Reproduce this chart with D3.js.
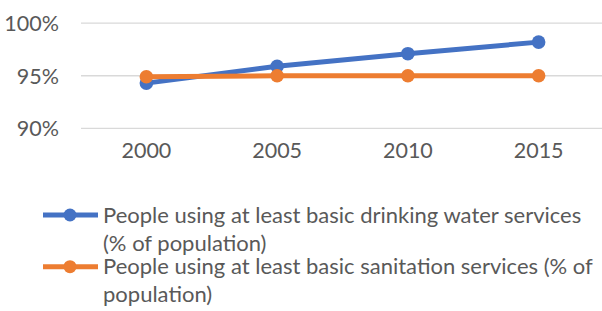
<!DOCTYPE html>
<html>
<head>
<meta charset="utf-8">
<script src="https://cdn.jsdelivr.net/npm/d3@7"></script>
<style>
  html, body { margin: 0; padding: 0; background: #fff; }
  text { font-family: Lato, "Open Sans", sans-serif; fill: #595959; }
</style>
</head>
<body>
<script>
const years = ["2000", "2005", "2010", "2015"];
const water = [94.3, 95.9, 97.1, 98.2];
const sanitation = [94.9, 95.0, 95.0, 95.0];
const yTicks = [90, 95, 100];
const seriesNames = [
  ["People using at least basic drinking water services", "(% of population)"],
  ["People using at least basic sanitation services (% of", "population)"]
];
const colors = ["#4472C4", "#ED7D31"];

const width = 602, height = 311;

const svg = d3.select("body").append("svg")
  .attr("width", width)
  .attr("height", height);

const x = d3.scaleBand().domain(years).range([81, 604]);
const y = d3.scaleLinear().domain([90, 100]).range([128.3, 23.2]);

// gridlines
svg.append("g")
  .selectAll("line")
  .data(yTicks)
  .enter()
  .append("line")
  .attr("x1", 81)
  .attr("x2", width)
  .attr("y1", d => y(d))
  .attr("y2", d => y(d))
  .attr("stroke", "#d9d9d9")
  .attr("stroke-width", 1.3);

// y labels
const yAxis = d3.axisLeft(y).tickValues(yTicks).tickFormat(d => d + "%").tickSize(0).tickPadding(0);
const gy = svg.append("g").attr("transform", "translate(59,0)").call(yAxis);
gy.select(".domain").remove();
gy.selectAll("text").attr("font-size", 21.5).attr("dy", "0.35em").attr("font-family", null);

// x labels
const xAxis = d3.axisBottom(x).tickSize(0).tickPadding(0);
const gx = svg.append("g").attr("transform", "translate(0,143)").call(xAxis);
gx.select(".domain").remove();
gx.selectAll("text").attr("font-size", 21.5).attr("dy", "0.71em").attr("font-family", null);

const cx = d => x(d) + x.bandwidth() / 2;
const line = d3.line().x(d => cx(d.year)).y(d => y(d.v));

[water, sanitation].forEach((vals, i) => {
  const pts = years.map((yr, j) => ({ year: yr, v: vals[j] }));
  svg.append("path")
    .datum(pts)
    .attr("d", line)
    .attr("fill", "none")
    .attr("stroke", colors[i])
    .attr("stroke-width", 5)
    .attr("stroke-linejoin", "round");
  svg.append("g")
    .selectAll("circle")
    .data(pts)
    .enter()
    .append("circle")
    .attr("cx", d => cx(d.year))
    .attr("cy", d => y(d.v))
    .attr("r", 6.8)
    .attr("fill", colors[i]);
});

// legend
const legendY = [215, 266.7];
const lg = svg.append("g");
seriesNames.forEach((lines, i) => {
  const g = lg.append("g");
  g.append("line")
    .attr("x1", 43).attr("x2", 98)
    .attr("y1", legendY[i]).attr("y2", legendY[i])
    .attr("stroke", colors[i]).attr("stroke-width", 5);
  g.append("circle")
    .attr("cx", 70).attr("cy", legendY[i]).attr("r", 6.5)
    .attr("fill", colors[i]);
  lines.forEach((t, k) => {
    g.append("text")
      .attr("x", 103)
      .attr("y", legendY[i] + 7.5 + k * 28)
      .attr("font-size", 22)
      .text(t);
  });
});
</script>
</body>
</html>
